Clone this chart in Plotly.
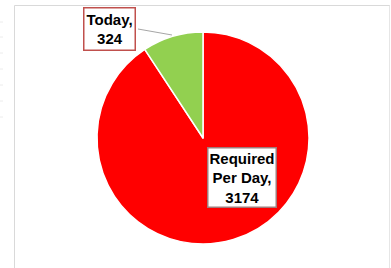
import plotly.graph_objects as go

W, H = 391, 268
labels = ["Required Per Day", "Today"]
values = [3174, 324]
colors = ["#ff0000", "#92d050"]
label_text = ["Required<br>Per Day,<br>3174", "Today,<br>324"]

def px(x):
    return x / W

def py(y):
    return 1 - y / H

fig = go.Figure(go.Pie(
    labels=labels, values=values, sort=False, direction="clockwise", rotation=0,
    marker=dict(colors=colors, line=dict(color="white", width=1.5)),
    textinfo="none", hoverinfo="label+value", showlegend=False,
    domain=dict(x=[px(97), px(309)], y=[py(244), py(32)]),
))

shapes = [
    dict(type="line", xref="paper", yref="paper", x0=px(14.5), x1=px(14.5), y0=py(5.5), y1=py(275),
         line=dict(color="#d9d9d9", width=1)),
    dict(type="line", xref="paper", yref="paper", x0=px(14.5), x1=px(390), y0=py(5.5), y1=py(5.5),
         line=dict(color="#d9d9d9", width=1)),
    dict(type="line", xref="paper", yref="paper", x0=px(389.5), x1=px(389.5), y0=py(5.5), y1=py(275),
         line=dict(color="#e6e6e6", width=1)),
    # leader line
    dict(type="line", xref="paper", yref="paper", x0=px(138), x1=px(172), y0=py(29), y1=py(35),
         line=dict(color="#a6a6a6", width=1)),
]
for ty in [22, 37, 53, 69, 85, 101, 117]:
    shapes.append(dict(type="line", xref="paper", yref="paper", x0=0, x1=px(3), y0=py(ty), y1=py(ty),
                       line=dict(color="#ececec", width=1)))

font = dict(family="Liberation Sans, Arial, sans-serif", size=15, color="black")
annotations = [
    dict(text="<b>" + label_text[1] + "</b>", xref="paper", yref="paper",
         x=px(109.5), y=py(29.5), xanchor="center", yanchor="middle", showarrow=False,
         font=font, bordercolor="#c0504d", borderwidth=1.5, borderpad=2, bgcolor="white"),
    dict(text="<b>" + label_text[0] + "</b>", xref="paper", yref="paper",
         x=px(241.7), y=py(177.8), xanchor="center", yanchor="middle", showarrow=False,
         font=font, bordercolor="#a07a7a", borderwidth=1.5, borderpad=1, bgcolor="white"),
]

fig.update_layout(width=W, height=H, margin=dict(l=0, r=0, t=0, b=0),
                  paper_bgcolor="white", plot_bgcolor="white",
                  shapes=shapes, annotations=annotations)
fig.write_html("out.html", config={"displayModeBar": False},
               post_script="document.body.style.margin='0';document.body.style.overflow='hidden';")
